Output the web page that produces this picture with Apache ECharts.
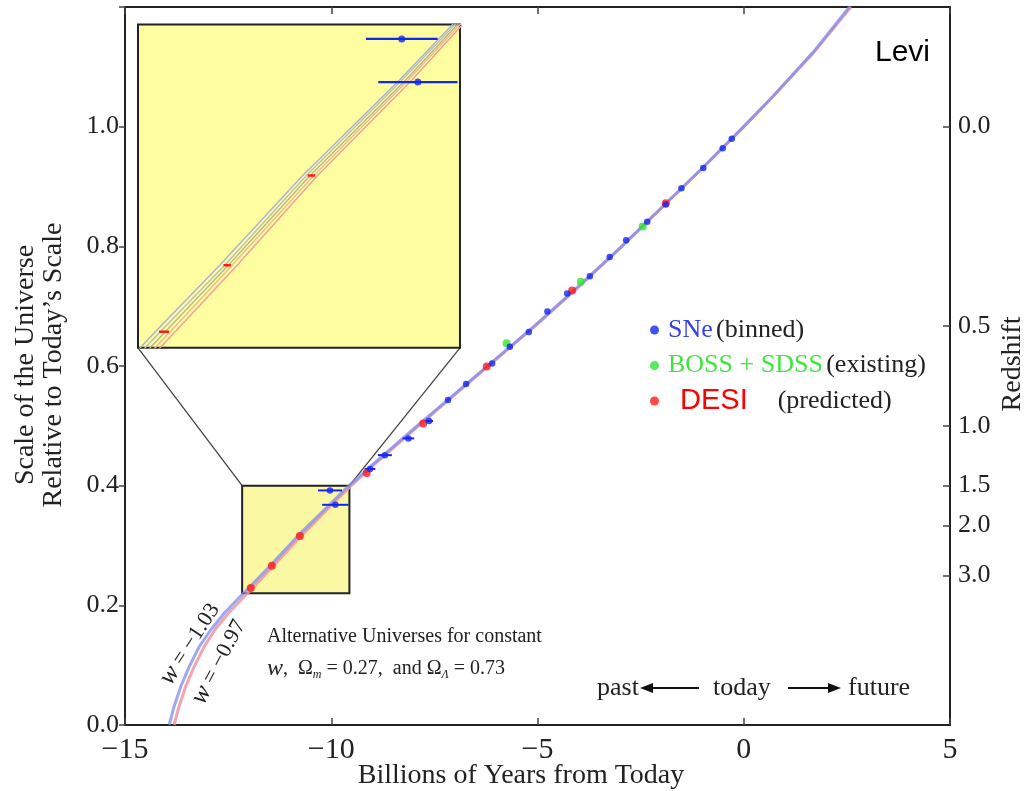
<!DOCTYPE html>
<html><head><meta charset="utf-8">
<script src="https://cdn.jsdelivr.net/npm/echarts@6/dist/echarts.min.js"></script>
<style>html,body{margin:0;padding:0;background:#fff}#c{width:1025px;height:791px}</style>
</head><body><div id="c"></div>
<script>
// ---------- data ----------
const xTicks = [-15, -10, -5, 0, 5];
const yTicks = [0.0, 0.2, 0.4, 0.6, 0.8, 1.0];
const redshiftTicks = [0.0, 0.5, 1.0, 1.5, 2.0, 3.0];

// scale factor curves (Gyr from today, scale)
const curveY     = [0, 0.031, 0.064, 0.098, 0.131, 0.160, 0.188, 0.211, 0.229, 0.266, 0.316, 0.369, 0.399, 0.434, 0.494, 0.553, 0.612, 0.671, 0.733, 0.797, 0.864, 0.931, 1.0, 1.05, 1.125, 1.2];
const curveXw103 = [-13.93, -13.81, -13.65, -13.44, -13.20, -12.91, -12.58, -12.26, -12.00, -11.48, -10.81, -10.03, -9.59, -9.02, -8.02, -7.01, -6.01, -5.01, -4.01, -3.0, -2.0, -1.0, 0, 0.70, 1.69, 2.56];
const curveXw097 = [-13.81, -13.69, -13.53, -13.32, -13.08, -12.81, -12.48, -12.16, -11.90, -11.40, -10.73, -9.97, -9.53, -8.98, -7.98, -6.99, -5.99, -4.99, -3.99, -3.0, -2.0, -1.0, 0, 0.70, 1.71, 2.60];

// zoomed curves in the inset
const insetY  = [0.215, 0.229, 0.266, 0.316, 0.369, 0.40, 0.41];
const insetX1 = [-12.21, -12.02, -11.50, -10.83, -10.05, -9.62, -9.48];
const insetX2 = [-12.17, -11.98, -11.46, -10.80, -10.03, -9.60, -9.46];
const insetX3 = [-12.13, -11.94, -11.43, -10.77, -10.00, -9.58, -9.44];
const insetX4 = [-12.09, -11.90, -11.40, -10.74, -9.98, -9.56, -9.42];
const insetX5 = [-12.05, -11.86, -11.36, -10.71, -9.95, -9.54, -9.40];

// SNe (binned)
const sneX   = [-0.29, -0.51, -0.98, -1.51, -1.89, -2.34, -2.85, -3.25, -3.73, -4.28, -4.76, -5.21, -5.67, -6.10, -6.73, -7.17, -7.63, -8.13, -8.70, -9.06, -9.90, -10.03];
const sneY   = [0.980, 0.964, 0.931, 0.897, 0.870, 0.841, 0.810, 0.782, 0.750, 0.721, 0.691, 0.657, 0.632, 0.604, 0.570, 0.543, 0.508, 0.479, 0.451, 0.428, 0.368, 0.392];
const sneErr = [0, 0, 0, 0, 0, 0, 0, 0, 0, 0, 0, 0, 0, 0, 0, 0, 0.10, 0.14, 0.17, 0.13, 0.32, 0.29];
// BOSS + SDSS (existing)
const bossX = [-2.45, -3.95, -5.75];
const bossY = [0.833, 0.741, 0.638];
// DESI (predicted)
const desiX   = [-1.89, -4.16, -6.23, -7.77, -9.14, -10.76, -11.44, -11.95];
const desiY   = [0.872, 0.726, 0.599, 0.504, 0.421, 0.316, 0.266, 0.229];
const desiErr = [0.03, 0.03, 0.03, 0.03, 0.03, 0.03, 0.03, 0.04];

// zoom box (main data coords) and inset placement (main data coords)
const zoomBoxX = [-12.16, -9.56];
const zoomBoxY = [0.22, 0.40];
const insetBoxX = [-14.685, -6.879];
const insetBoxY = [0.6304, 1.1706];

// ---------- helpers ----------
const zip = (xs, ys) => xs.map((x, i) => [x, ys[i]]);
const zip3 = (xs, ys, es) => xs.map((x, i) => [x, ys[i], es[i]]);
const SERIF = '"Liberation Serif", "Times New Roman", serif';
const SANS = '"Liberation Sans", Arial, sans-serif';
const minus = v => (v < 0 ? '\u2212' + Math.abs(v) : String(v));

function errRender(color, width) {
  return function (params, api) {
    const x = api.value(0), y = api.value(1), e = api.value(2);
    if (!e) return null;
    const a = api.coord([x - e, y]), b = api.coord([x + e, y]);
    return { type: 'line', shape: { x1: a[0], y1: a[1], x2: b[0], y2: b[1] },
             style: { stroke: color, lineWidth: width } };
  };
}

const BLUE = '#1426f0', RED = '#ff1a1a', GREEN = '#2ee52e';
const axisLineStyle = { color: '#222', width: 2 };

const chart = echarts.init(document.getElementById('c'));

const option = {
  animation: false,
  backgroundColor: '#fff',
  grid: [
    { left: 125, right: 75, top: 7, bottom: 66, show: false },
    { left: 138, top: 25, width: 322, height: 323, show: true,
      backgroundColor: '#fefda0', borderColor: '#222', borderWidth: 2, z: 10 }
  ],
  xAxis: [
    { gridIndex: 0, type: 'value', min: -15, max: 5, interval: 5, position: 'bottom',
      axisLine: { show: true, onZero: false, lineStyle: axisLineStyle },
      axisTick: { show: true, inside: true, length: 7, lineStyle: { color: '#444', width: 1.5 } },
      axisLabel: { margin: 10, fontFamily: SERIF, fontSize: 30, color: '#222',
                   showMinLabel: true, showMaxLabel: true, formatter: v => minus(v) },
      splitLine: { show: false } },
    { gridIndex: 0, type: 'value', min: -15, max: 5, interval: 5, position: 'top',
      axisLine: { show: true, onZero: false, lineStyle: axisLineStyle },
      axisTick: { show: true, inside: true, length: 7, lineStyle: { color: '#444', width: 1.5 } },
      axisLabel: { show: false }, splitLine: { show: false } },
    { gridIndex: 1, type: 'value', min: zoomBoxX[0], max: zoomBoxX[1], show: false,
      splitLine: { show: false } }
  ],
  yAxis: [
    { gridIndex: 0, type: 'value', min: 0, max: 1.2, interval: 0.2, position: 'left',
      axisLine: { show: true, onZero: false, lineStyle: axisLineStyle },
      axisTick: { show: true, inside: false, length: 6, lineStyle: { color: '#444', width: 1.5 } },
      axisLabel: { margin: 6, fontFamily: SERIF, fontSize: 26, color: '#222',
                   formatter: v => (v > 1.05 ? '' : v.toFixed(1)) },
      splitLine: { show: false } },
    { gridIndex: 0, type: 'value', min: 0, max: 1.2, position: 'right',
      axisLine: { show: true, onZero: false, lineStyle: axisLineStyle },
      axisTick: { show: true, inside: true, length: 7, lineStyle: { color: '#444', width: 1.5 },
                  customValues: redshiftTicks.map(z => 1 / (1 + z)) },
      axisLabel: { margin: 8, fontFamily: SERIF, fontSize: 26, color: '#222',
                   customValues: redshiftTicks.map(z => 1 / (1 + z)),
                   formatter: v => (1 / v - 1).toFixed(1) },
      splitLine: { show: false } },
    { gridIndex: 1, type: 'value', min: zoomBoxY[0], max: zoomBoxY[1], show: false,
      splitLine: { show: false } }
  ],
  legend: {
    data: ['SNe (binned)', 'BOSS + SDSS (existing)', 'DESI (predicted)'],
    orient: 'vertical', left: 645, top: 310, icon: 'circle',
    itemWidth: 9, itemHeight: 9, itemGap: 5.5, selectedMode: false,
    formatter: name => ({
      'SNe (binned)': '{sne|SNe} {blk|(binned)}',
      'BOSS + SDSS (existing)': '{boss|BOSS + SDSS} {blk|(existing)}',
      'DESI (predicted)': '{desi|DESI}{pred|(predicted)}'
    }[name]),
    textStyle: {
      lineHeight: 30,
      rich: {
        sne:  { color: '#3340ee', fontFamily: SERIF, fontSize: 26, lineHeight: 30, padding: [0, 0, 0, 4] },
        boss: { color: '#3fe63f', fontFamily: SERIF, fontSize: 26, lineHeight: 30, padding: [0, 0, 0, 4] },
        desi: { color: '#ff0000', fontFamily: SANS, fontSize: 29, lineHeight: 30, padding: [0, 0, 0, 16] },
        blk:  { color: '#222', fontFamily: SERIF, fontSize: 26, lineHeight: 30 },
        pred: { color: '#222', fontFamily: SERIF, fontSize: 26, lineHeight: 30, padding: [0, 0, 0, 30] }
      }
    }
  },
  series: [
    // connectors + zoom box
    { type: 'line', name: 'conn1', xAxisIndex: 0, yAxisIndex: 0, z: 1, symbol: 'none', silent: true,
      lineStyle: { color: '#444', width: 1.3 },
      data: [[insetBoxX[0], insetBoxY[0]], [zoomBoxX[0], zoomBoxY[1]]],
      markArea: { silent: true, z: 1,
        itemStyle: { color: '#fbf8a4', borderColor: '#222', borderWidth: 2 },
        data: [[{ coord: [zoomBoxX[0], zoomBoxY[0]] }, { coord: [zoomBoxX[1], zoomBoxY[1]] }]] } },
    { type: 'line', name: 'conn2', xAxisIndex: 0, yAxisIndex: 0, z: 1, symbol: 'none', silent: true,
      lineStyle: { color: '#444', width: 1.3 },
      data: [[insetBoxX[1], insetBoxY[0]], [zoomBoxX[1], zoomBoxY[1]]] },
    // curves
    { type: 'line', name: 'w=-0.97', xAxisIndex: 0, yAxisIndex: 0, z: 3, symbol: 'none', smooth: false,
      lineStyle: { color: 'rgba(238,150,160,0.85)', width: 3 }, data: zip(curveXw097, curveY) },
    { type: 'line', name: 'w=-1.03', xAxisIndex: 0, yAxisIndex: 0, z: 3, symbol: 'none', smooth: false,
      lineStyle: { color: 'rgba(125,140,238,0.75)', width: 3 }, data: zip(curveXw103, curveY) },
    // error bars
    { type: 'custom', name: 'sneErr', xAxisIndex: 0, yAxisIndex: 0, z: 4,
      renderItem: errRender(BLUE, 2), encode: { x: 0, y: 1 }, data: zip3(sneX, sneY, sneErr) },
    // points
    { type: 'scatter', name: 'DESI (predicted)', xAxisIndex: 0, yAxisIndex: 0, z: 5,
      symbolSize: 8, itemStyle: { color: RED }, data: zip(desiX, desiY) },
    { type: 'scatter', name: 'BOSS + SDSS (existing)', xAxisIndex: 0, yAxisIndex: 0, z: 6,
      symbolSize: 8, itemStyle: { color: GREEN }, data: zip(bossX, bossY) },
    { type: 'scatter', name: 'SNe (binned)', xAxisIndex: 0, yAxisIndex: 0, z: 7,
      symbolSize: 6.5, itemStyle: { color: BLUE }, data: zip(sneX, sneY) },
    // inset
    ...[[insetX1, '#a9b0d6'], [insetX2, '#bcbcbc'], [insetX3, '#b4b88e'], [insetX4, '#eebb8e'], [insetX5, '#f29c9c']]
      .map(([xs, c], i) => ({ type: 'line', name: 'inset' + i, xAxisIndex: 2, yAxisIndex: 2, z: 11,
        symbol: 'none', smooth: false, clip: true, lineStyle: { color: c, width: 1.4 }, data: zip(xs, insetY) })),
    { type: 'custom', name: 'insetSneErr', xAxisIndex: 2, yAxisIndex: 2, z: 12, clip: true,
      renderItem: errRender(BLUE, 2.2), encode: { x: 0, y: 1 }, data: zip3(sneX, sneY, sneErr) },
    { type: 'scatter', name: 'insetSne', xAxisIndex: 2, yAxisIndex: 2, z: 13, clip: true,
      symbolSize: 7, itemStyle: { color: BLUE }, data: zip(sneX, sneY) },
    { type: 'custom', name: 'insetDesi', xAxisIndex: 2, yAxisIndex: 2, z: 13, clip: true,
      renderItem: errRender(RED, 2.5), encode: { x: 0, y: 1 }, data: zip3(desiX, desiY, desiErr) }
  ],
  graphic: [
    { type: 'text', x: 875, y: 53, style: { text: 'Levi', font: '30px ' + SANS, fill: '#000', align: 'left', verticalAlign: 'middle' } },
    { type: 'text', x: 26, y: 365, rotation: Math.PI / 2,
      style: { text: 'Scale of the Universe', font: '28px ' + SERIF, fill: '#222', align: 'center', verticalAlign: 'middle' } },
    { type: 'text', x: 54, y: 365, rotation: Math.PI / 2,
      style: { text: 'Relative to Today\u2019s Scale', font: '28px ' + SERIF, fill: '#222', align: 'center', verticalAlign: 'middle' } },
    { type: 'text', x: 521, y: 776,
      style: { text: 'Billions of Years from Today', font: '28px ' + SERIF, fill: '#222', align: 'center', verticalAlign: 'middle' } },
    { type: 'text', x: 1013, y: 364, rotation: Math.PI / 2,
      style: { text: 'Redshift', font: '28px ' + SERIF, fill: '#222', align: 'center', verticalAlign: 'middle' } },
    { type: 'text', x: 267, y: 637,
      style: { text: 'Alternative Universes for constant', font: '20px ' + SERIF, fill: '#222', align: 'left', verticalAlign: 'middle' } },
    { type: 'text', x: 267, y: 669,
      style: { text: '{i|w},  \u03a9{s|m} = 0.27,  and \u03a9{s|\u039b} = 0.73', font: '20px ' + SERIF, fill: '#222',
               align: 'left', verticalAlign: 'middle',
               rich: { i: { fontFamily: SERIF, fontStyle: 'italic', fontSize: 24, lineHeight: 24 },
                       s: { fontFamily: SERIF, fontStyle: 'italic', fontSize: 12, lineHeight: 24, verticalAlign: 'bottom' } } } },
    { type: 'text', x: 190, y: 644, rotation: 57 * Math.PI / 180,
      style: { text: '{i|w} = \u22121.03', font: '22px ' + SERIF, fill: '#222', align: 'center', verticalAlign: 'middle',
               rich: { i: { fontFamily: SERIF, fontStyle: 'italic', fontSize: 26 } } } },
    { type: 'text', x: 219, y: 662, rotation: 62 * Math.PI / 180,
      style: { text: '{i|w} = \u22120.97', font: '22px ' + SERIF, fill: '#222', align: 'center', verticalAlign: 'middle',
               rich: { i: { fontFamily: SERIF, fontStyle: 'italic', fontSize: 26 } } } },
    { type: 'text', x: 597, y: 688, style: { text: 'past', font: '26px ' + SERIF, fill: '#222', align: 'left', verticalAlign: 'middle' } },
    { type: 'text', x: 713, y: 688, style: { text: 'today', font: '26px ' + SERIF, fill: '#222', align: 'left', verticalAlign: 'middle' } },
    { type: 'text', x: 848, y: 688, style: { text: 'future', font: '26px ' + SERIF, fill: '#222', align: 'left', verticalAlign: 'middle' } },
    { type: 'line', shape: { x1: 650, y1: 688, x2: 699, y2: 688 }, style: { stroke: '#111', lineWidth: 2.2 } },
    { type: 'polygon', shape: { points: [[640, 688], [653, 683], [653, 693]] }, style: { fill: '#111' } },
    { type: 'line', shape: { x1: 788, y1: 688, x2: 830, y2: 688 }, style: { stroke: '#111', lineWidth: 2.2 } },
    { type: 'polygon', shape: { points: [[841, 688], [828, 683], [828, 693]] }, style: { fill: '#111' } }
  ]
};

chart.setOption(option);

// place the inset grid from its box in main-plot data coordinates
const tl = chart.convertToPixel({ gridIndex: 0 }, [insetBoxX[0], insetBoxY[1]]);
const br = chart.convertToPixel({ gridIndex: 0 }, [insetBoxX[1], insetBoxY[0]]);
chart.setOption({ grid: [{}, { left: tl[0], top: tl[1], width: br[0] - tl[0], height: br[1] - tl[1] }] });
</script>
</body></html>
